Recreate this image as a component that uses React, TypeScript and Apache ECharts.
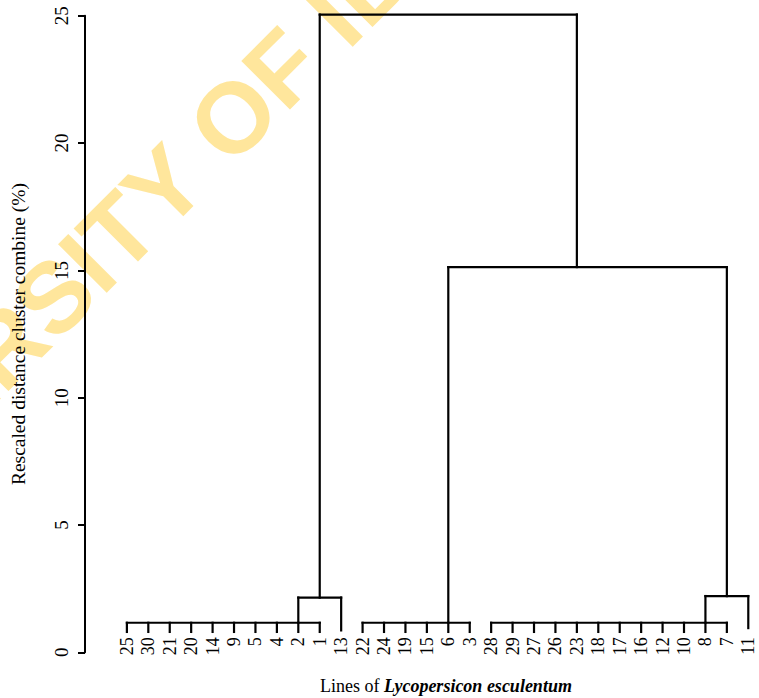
import React, { useEffect, useRef } from "react";
import * as echarts from "echarts";

// Leaf labels (lines), left to right
const leafLabels = [
  "25", "30", "21", "20", "14", "9", "5", "4", "2", "1", "13",
  "22", "24", "19", "15", "6", "3",
  "28", "29", "27", "26", "23", "18", "17", "16", "12", "10", "8", "7", "11",
];

// flat clusters: leaf index ranges joined at one height
const groupStart = [0, 11, 17];
const groupEnd = [9, 16, 28];
const groupHeight = [1.16, 1.16, 1.16];
const leafBase = 0.8;

// merges (U-links)
const mergeLeftX = [8, 27, 15, 9];
const mergeLeftBottom = [1.16, 1.16, 1.16, 2.15];
const mergeRightX = [10, 29, 28, 21];
const mergeRightBottom = [0.86, 0.95, 2.21, 15.13];
const mergeHeight = [2.15, 2.21, 15.13, 25.05];

const yTicks = [0, 5, 10, 15, 20, 25];

function buildSegments(): number[][] {
  const segs: number[][] = [];
  for (let g = 0; g < groupStart.length; g++) {
    const h = groupHeight[g];
    segs.push([groupStart[g], h, groupEnd[g], h]);
    for (let i = groupStart[g]; i <= groupEnd[g]; i++) {
      segs.push([i, leafBase, i, h]);
    }
  }
  for (let m = 0; m < mergeLeftX.length; m++) {
    const h = mergeHeight[m];
    segs.push([mergeLeftX[m], mergeLeftBottom[m], mergeLeftX[m], h]);
    segs.push([mergeLeftX[m], h, mergeRightX[m], h]);
    segs.push([mergeRightX[m], h, mergeRightX[m], mergeRightBottom[m]]);
  }
  return segs;
}

const SERIF = "'Liberation Serif', 'Times New Roman', serif";
const WM_FONT = "'Liberation Sans', Arial, sans-serif";

export default function App() {
  const ref = useRef<HTMLDivElement>(null);
  useEffect(() => {
    if (!ref.current) return;
    const chart = echarts.init(ref.current, null, { renderer: "svg" });
    const left = 115.17;
    const width = 649.66;
    const top = 15.8;
    const height = 636.5;
    const option: any = {
      animation: false,
      backgroundColor: "#ffffff",
      grid: { left, top, width, height, containLabel: false },
      xAxis: [
        {
          type: "category",
          data: leafLabels,
          boundaryGap: true,
          axisLine: { show: false, onZero: false },
          axisTick: { show: false },
          axisLabel: {
            rotate: 90,
            margin: -15,
            interval: 0,
            color: "#000",
            fontFamily: SERIF,
            fontSize: 18,
          },
        },
        {
          type: "value",
          min: -0.5,
          max: 29.5,
          show: false,
          position: "top",
          axisLine: { onZero: false },
        },
      ],
      yAxis: {
        type: "value",
        min: yTicks[0],
        max: yTicks[yTicks.length - 1],
        interval: 5,
        offset: left - 84,
        splitLine: { show: false },
        axisLine: { show: true, onZero: false, lineStyle: { color: "#000", width: 2 } },
        axisTick: { show: true, length: 7, lineStyle: { color: "#000", width: 2 } },
        axisLabel: {
          rotate: 90,
          margin: 14,
          color: "#000",
          fontFamily: SERIF,
          fontSize: 19,
        },
        name: "Rescaled distance cluster combine (%)",
        nameLocation: "middle",
        nameRotate: 90,
        nameGap: 57,
        nameTextStyle: { color: "#000", fontFamily: SERIF, fontSize: 19.5 },
      },
      series: [
        {
          type: "custom",
          xAxisIndex: 1,
          yAxisIndex: 0,
          clip: false,
          silent: true,
          encode: { x: [0, 2], y: [1, 3] },
          data: buildSegments(),
          renderItem: (params: any, api: any) => {
            const p1 = api.coord([api.value(0), api.value(1)]);
            const p2 = api.coord([api.value(2), api.value(3)]);
            return {
              type: "line",
              shape: { x1: p1[0], y1: p1[1], x2: p2[0], y2: p2[1] },
              style: { stroke: "#000", lineWidth: 2.2, lineCap: "square" },
            };
          },
        },
      ],
      graphic: [
        {
          type: "text",
          x: 446,
          y: 686,
          style: {
            text: "Lines of {i|Lycopersicon esculentum}",
            textAlign: "center",
            textVerticalAlign: "middle",
            fill: "#000",
            fontFamily: SERIF,
            fontSize: 18,
            rich: {
              i: {
                fontStyle: "italic",
                fontWeight: "bold",
                fontFamily: SERIF,
                fontSize: 18,
                fill: "#000",
              },
            },
          },
        },
        {
          type: "group",
          x: 205.5,
          y: 144.5,
          rotation: Math.PI / 4,
          z: 100,
          silent: true,
          children: [
            {
              type: "text",
              style: {
                x: 0,
                y: 0,
                text: "UNIVERSITY ",
                textAlign: "right",
                textVerticalAlign: "middle",
                fontFamily: WM_FONT,
                fontWeight: "bold",
                fontSize: 100,
                fill: "#FFC107",
                opacity: 0.4,
              },
            },
            {
              type: "text",
              style: {
                x: 0,
                y: 0,
                text: "OF IBADAN",
                textAlign: "left",
                textVerticalAlign: "middle",
                fontFamily: WM_FONT,
                fontWeight: "bold",
                fontSize: 100,
                fill: "#FFC107",
                opacity: 0.4,
              },
            },
          ],
        },
      ],
    };
    chart.setOption(option);
    return () => chart.dispose();
  }, []);
  return (
    <div
      ref={ref}
      style={{ position: "absolute", left: 0, top: 0, width: 759, height: 698 }}
    />
  );
}
